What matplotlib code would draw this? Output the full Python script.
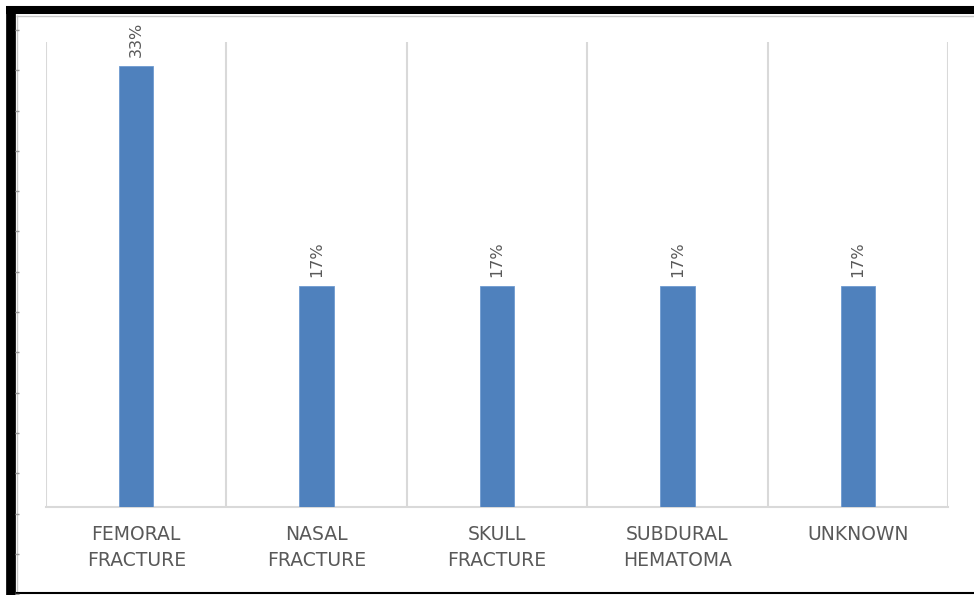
import matplotlib.pyplot as plt
import numpy as np
from matplotlib.lines import Line2D

categories = ["FEMORAL\nFRACTURE", "NASAL\nFRACTURE", "SKULL\nFRACTURE", "SUBDURAL\nHEMATOMA", "UNKNOWN"]
values = [33.3, 16.7, 16.7, 16.7, 16.7]
value_labels = ["33%", "17%", "17%", "17%", "17%"]

grey = "#595959"
fig = plt.figure(figsize=(9.74, 5.95), dpi=100)
ax = fig.add_axes([46/974, 1-507/595, (948-46)/974, (507-42)/595])

x = np.arange(len(categories))
bars = ax.bar(x, values, width=0.19, color="#4F81BD", edgecolor="#6F9AD0", linewidth=0.6, zorder=3)

for b, lab in zip(bars, value_labels):
    ax.annotate(lab, (b.get_x() + b.get_width()/2, b.get_height()), xytext=(0, 6.5),
                textcoords="offset points", rotation=90, ha="center", va="bottom",
                fontsize=11.5, color=grey)

# vertical separators between categories
for xv in np.arange(-0.5, len(categories), 1.0):
    ax.axvline(xv, color="#D9D9D9", linewidth=1.5, zorder=1)

ax.set_xlim(-0.5, len(categories) - 0.5)
ax.set_ylim(0, 35.15)
ax.set_xticks(x)
ax.set_xticklabels(categories, fontsize=13.5, color=grey, linespacing=1.45)
ax.tick_params(axis="x", length=0, pad=13)
ax.set_yticks([])
for s in ["top", "left", "right"]:
    ax.spines[s].set_visible(False)
ax.spines["bottom"].set_color("#D9D9D9")
ax.spines["bottom"].set_linewidth(1.5)

# screenshot frame: thick black top/left, thin bottom
W, H = 974, 595
def fx(px): return px / W
def fy(py): return 1 - py / H
frame = dict(solid_capstyle="butt")
fig.add_artist(Line2D([fx(6), fx(974)], [fy(10), fy(10)], color="black", linewidth=5.8, **frame))
fig.add_artist(Line2D([fx(11), fx(11)], [fy(6), fy(595)], color="black", linewidth=7, **frame))
fig.add_artist(Line2D([fx(16), fx(974)], [fy(15.5), fy(15.5)], color="#C8C8C8", linewidth=1, **frame))
fig.add_artist(Line2D([fx(17), fx(17)], [fy(15), fy(592)], color="#C8C8C8", linewidth=1, **frame))
fig.add_artist(Line2D([fx(16), fx(974)], [fy(592.5), fy(592.5)], color="black", linewidth=1.5, **frame))
for ty in np.arange(30, 595, 40.3):
    fig.add_artist(Line2D([fx(15), fx(19)], [fy(ty), fy(ty)], color="#9A9A9A", linewidth=1, **frame))

fig.savefig("out.png", dpi=100)
